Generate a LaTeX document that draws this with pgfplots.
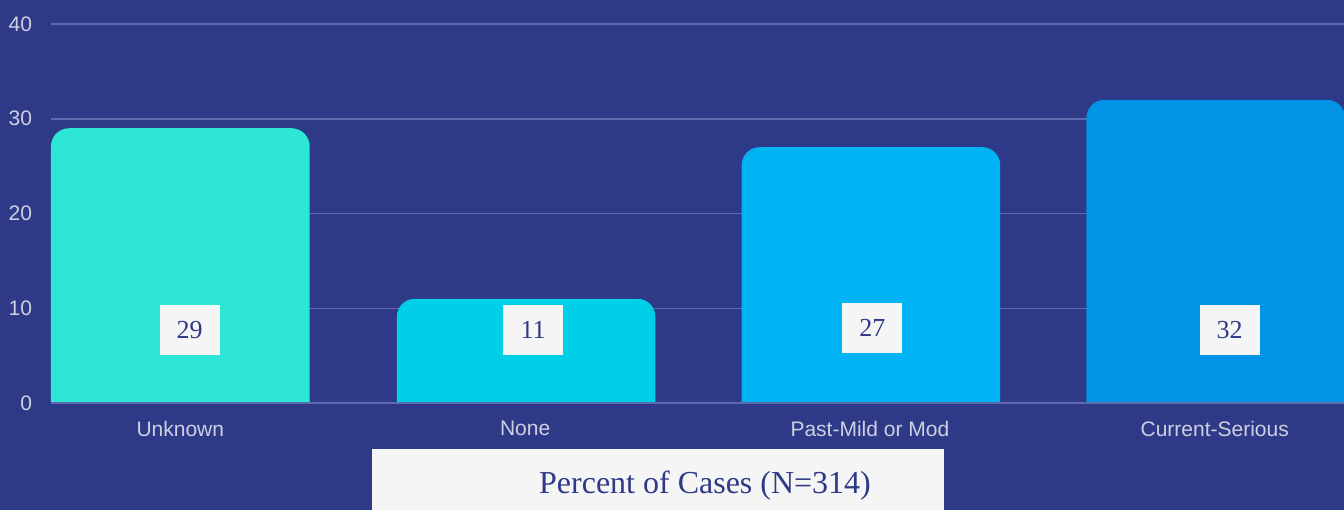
\documentclass[border=0pt]{standalone}
\usepackage{fontspec}
\setmainfont{Liberation Sans}
\newfontfamily\seriffont{Liberation Serif}
\usepackage{pgfplots}
\pgfplotsset{compat=1.18}
\definecolor{bgcol}{HTML}{2E3A87}
\definecolor{gridcol}{HTML}{5C6BAE}
\definecolor{tickcol}{HTML}{CDD0E0}
\definecolor{boxcol}{HTML}{F5F5F5}
\definecolor{cA}{HTML}{2EE6D6}
\definecolor{cB}{HTML}{00CFE8}
\definecolor{cC}{HTML}{00B3F2}
\definecolor{cD}{HTML}{0093E6}
\begin{document}
\begin{tikzpicture}
\useasboundingbox (0,0) rectangle (672pt,255pt);
\fill[bgcol] (0,0) rectangle (672pt,255pt);
\begin{axis}[
  at={(25.5pt,53.5pt)}, anchor=south west,
  width=646.5pt, height=189.5pt, scale only axis,
  xmin=-0.375, xmax=3.375, ymin=0, ymax=40,
  xtick={0,1,2,3},
  xticklabels={Unknown,None,Past-Mild or Mod,Current-Serious},
  ytick={0,10,20,30,40},
  axis line style={draw=none},
  major tick length=0pt,
  ymajorgrids, grid style={gridcol, line width=0.75pt},
  tick label style={font=\fontsize{10.5}{12}\selectfont, text=tickcol},
  /pgf/number format/assume math mode=true,
  xticklabel style={yshift=-5.5pt},
  yticklabel style={xshift=-6pt},
]
\addplot[fill=cA, draw=none, rounded corners=9pt] coordinates {(-0.375,-3) (-0.375,29) (0.375,29) (0.375,-3)} -- cycle;
\addplot[fill=cB, draw=none, rounded corners=9pt] coordinates {(0.628,-3) (0.628,11) (1.378,11) (1.378,-3)} -- cycle;
\addplot[fill=cC, draw=none, rounded corners=9pt] coordinates {(1.628,-3) (1.628,27) (2.378,27) (2.378,-3)} -- cycle;
\addplot[fill=cD, draw=none, rounded corners=9pt] coordinates {(2.628,-3) (2.628,32) (3.378,32) (3.378,-3)} -- cycle;
\draw[gridcol, line width=0.75pt] (axis cs:-0.375,0) -- (axis cs:3.375,0);
\tikzset{vl/.style={fill=boxcol, text=bgcol, minimum width=30pt, minimum height=25pt, inner sep=0pt, font=\seriffont\fontsize{13}{13}\selectfont}}
\node[vl] at (axis cs:0.027,7.7) {29};
\node[vl] at (axis cs:1.023,7.7) {11};
\node[vl] at (axis cs:2.007,7.9) {27};
\node[vl] at (axis cs:3.043,7.7) {32};
\end{axis}
\fill[boxcol] (186pt,0) rectangle (472pt,30.5pt);
\node[text=bgcol, font=\seriffont\fontsize{16}{16}\selectfont] at (352.5pt,12pt) {Percent of Cases (N=314)};
\end{tikzpicture}
\end{document}
